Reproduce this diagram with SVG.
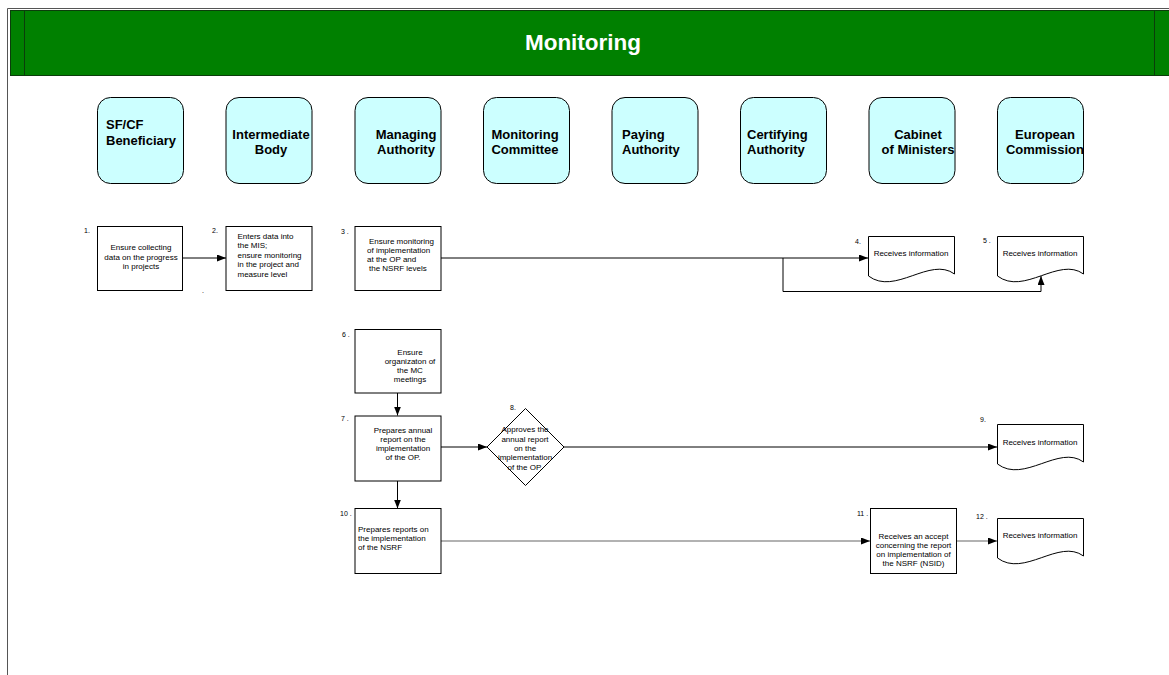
<svg xmlns="http://www.w3.org/2000/svg" width="1169" height="675" viewBox="0 0 1169 675">
<defs>
<marker id="ah" markerUnits="userSpaceOnUse" markerWidth="10" markerHeight="8" refX="9" refY="3.5" orient="auto">
<path d="M0,0 L9,3.5 L0,7 z" fill="#000"/>
</marker>
<style>
.hdr{fill:#CCFFFF;stroke:#000;stroke-width:1}
.ht{font-family:"Liberation Sans",Arial,sans-serif;font-size:13px;font-weight:bold;fill:#000}
.box{fill:#fff;stroke:#000;stroke-width:1}
.t{font-family:"Liberation Sans",Arial,sans-serif;font-size:8px;fill:#000}
.n{font-family:"Liberation Sans",Arial,sans-serif;font-size:7px;fill:#000}
.c{text-anchor:middle}
.con{fill:none;stroke:#000;stroke-width:1}
.gcon{fill:none;stroke:#666;stroke-width:1.2}
</style>
</defs>
<rect width="1169" height="675" fill="#fff"/>
<g id="frame">
<path d="M7.5,675 V8.5 H1169" fill="none" stroke="#555" stroke-width="1"/>
<rect x="10.5" y="10.5" width="1162" height="65" fill="#008000" stroke="#0b3d0b" stroke-width="1"/>
<line x1="24.5" y1="10.5" x2="24.5" y2="75.5" stroke="#0b3d0b"/>
<line x1="1154.5" y1="10.5" x2="1154.5" y2="75.5" stroke="#0b3d0b"/>
<text x="583" y="50" text-anchor="middle" font-family="'Liberation Sans',Arial,sans-serif" font-size="22.5" font-weight="bold" fill="#fff">Monitoring</text>
</g>
<g id="lane-beneficiary"><rect class="hdr" x="97.5" y="97.5" width="86" height="86" rx="13"/><text class="ht" x="106" y="128.5">SF/CF</text><text class="ht" x="106" y="144.5">Beneficiary</text></g>
<g id="lane-ib"><rect class="hdr" x="226" y="97.5" width="86" height="86" rx="13"/><text class="ht c" x="271" y="139">Intermediate</text><text class="ht c" x="271" y="153.5">Body</text></g>
<g id="lane-ma"><rect class="hdr" x="355" y="97.5" width="86" height="86" rx="13"/><text class="ht c" x="406" y="139">Managing</text><text class="ht c" x="406" y="153.5">Authority</text></g>
<g id="lane-mc"><rect class="hdr" x="483.5" y="97.5" width="86" height="86" rx="13"/><text class="ht c" x="525" y="139">Monitoring</text><text class="ht c" x="525" y="153.5">Committee</text></g>
<g id="lane-pa"><rect class="hdr" x="612" y="97.5" width="86" height="86" rx="13"/><text class="ht" x="622" y="139">Paying</text><text class="ht" x="622" y="153.5">Authority</text></g>
<g id="lane-ca"><rect class="hdr" x="740.5" y="97.5" width="86" height="86" rx="13"/><text class="ht" x="747" y="139">Certifying</text><text class="ht" x="747" y="153.5">Authority</text></g>
<g id="lane-cm"><rect class="hdr" x="869" y="97.5" width="86" height="86" rx="13"/><text class="ht c" x="918" y="139">Cabinet</text><text class="ht c" x="918" y="153.5">of Ministers</text></g>
<g id="lane-ec"><rect class="hdr" x="997.5" y="97.5" width="86" height="86" rx="13"/><text class="ht c" x="1045" y="139">European</text><text class="ht c" x="1045" y="153.5">Commission</text></g>

<g id="connectors">
<path class="con" d="M183,258 H226" marker-end="url(#ah)"/>
<path class="con" d="M441,258 H868" marker-end="url(#ah)"/>
<path class="con" d="M783,258 V291.5 H1041 V276" marker-end="url(#ah)"/>
<path class="con" d="M397.5,393 V415.5" marker-end="url(#ah)"/>
<path class="con" d="M441,447 H487" marker-end="url(#ah)"/>
<path class="con" d="M564,447 H997" marker-end="url(#ah)"/>
<path class="con" d="M397.5,481 V508.5" marker-end="url(#ah)"/>
<path class="gcon" d="M441,541 H870" marker-end="url(#ah)"/>
<path class="gcon" d="M957,541 H997" marker-end="url(#ah)"/>
</g>

<g id="n1"><rect class="box" x="97.5" y="226.5" width="85" height="64"/><text class="n" x="84" y="233">1.</text>
<text class="t c" x="141" y="250">Ensure collecting</text><text class="t c" x="141" y="259.5">data on the progress</text><text class="t c" x="141" y="269">in projects</text></g>
<text class="n" x="202" y="293">.</text>
<g id="n2"><rect class="box" x="226" y="226.5" width="86" height="64"/><text class="n" x="212" y="233">2.</text>
<text class="t" x="237.5" y="238.5">Enters data into</text><text class="t" x="237.5" y="248">the MIS;</text><text class="t" x="237.5" y="257.5">ensure monitoring</text><text class="t" x="237.5" y="267">in the project and</text><text class="t" x="237.5" y="276.5">measure level</text></g>
<g id="n3"><rect class="box" x="355" y="226.5" width="86" height="64"/><text class="n" x="341" y="234">3 .</text>
<text class="t" x="369" y="244">Ensure monitoring</text><text class="t" x="367" y="253">of implementation</text><text class="t" x="367" y="262">at the OP and</text><text class="t" x="369" y="271">the NSRF  levels</text></g>
<g id="n4"><path class="box" d="M868.5,236.5 H954.5 V274 C930,256 895,296 868.5,276 Z"/><text class="n" x="855" y="244">4.</text>
<text class="t c" x="911" y="256">Receives information</text></g>
<g id="n5"><path class="box" d="M997.5,236.5 H1083.5 V274 C1059,256 1024,296 997.5,276 Z"/><text class="n" x="983" y="243">5 .</text>
<text class="t c" x="1040" y="256">Receives information</text></g>
<g id="n6"><rect class="box" x="355" y="329.5" width="86" height="63.5"/><text class="n" x="342" y="337">6 .</text>
<text class="t c" x="410" y="354.5">Ensure</text><text class="t c" x="410" y="363.5">organizaton of</text><text class="t c" x="410" y="373">the MC</text><text class="t c" x="410" y="382">meetings</text></g>
<g id="n7"><rect class="box" x="355" y="416" width="86" height="65"/><text class="n" x="341" y="421">7 .</text>
<text class="t c" x="403" y="433">Prepares annual</text><text class="t c" x="403" y="442">report on the</text><text class="t c" x="403" y="451">implementation</text><text class="t c" x="403" y="460">of the OP.</text></g>
<g id="n8"><path class="box" d="M525.5,408.5 L564,447 L525.5,485.5 L487,447 Z"/><text class="n" x="510" y="410">8.</text>
<text class="t c" x="525" y="432">Approves the</text><text class="t c" x="525" y="441.5">annual report</text><text class="t c" x="525" y="451">on the</text><text class="t c" x="525" y="460">implementation</text><text class="t c" x="525" y="469.5">of the OP.</text></g>
<g id="n9"><path class="box" d="M997.5,424.5 H1083.5 V462 C1059,444 1024,484 997.5,464 Z"/><text class="n" x="980" y="422">9.</text>
<text class="t c" x="1040" y="445">Receives information</text></g>
<g id="n10"><rect class="box" x="355" y="508.5" width="86" height="65"/><text class="n" x="340" y="516">10 .</text>
<text class="t" x="358" y="532">Prepares reports on</text><text class="t" x="358" y="541">the implementation</text><text class="t" x="358" y="550">of the NSRF</text></g>
<g id="n11"><rect class="box" x="870.5" y="508.5" width="86" height="65" stroke="#333"/><text class="n" x="857" y="516">11 .</text>
<text class="t c" x="913.5" y="539">Receives an accept</text><text class="t c" x="913.5" y="548">concerning the report</text><text class="t c" x="913.5" y="557">on implementation of</text><text class="t c" x="913.5" y="566">the NSRF (NSID)</text></g>
<g id="n12"><path class="box" d="M997.5,518.5 H1083.5 V556 C1059,538 1024,578 997.5,558 Z"/><text class="n" x="976" y="519">12 .</text>
<text class="t c" x="1040" y="538">Receives information</text></g>
</svg>
